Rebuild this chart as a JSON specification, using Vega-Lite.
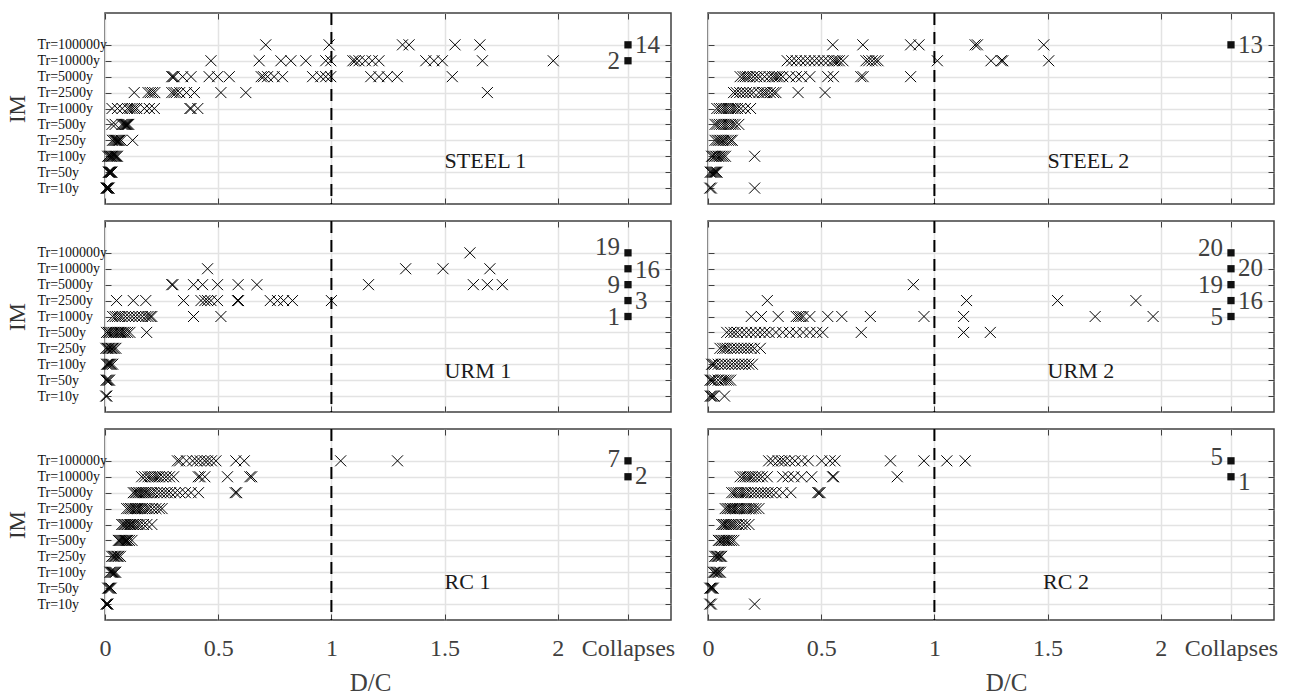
{
"$schema":"https://vega.github.io/schema/vega-lite/v6.json",
"background":"white",
"padding":{"left":5,"top":11,"right":5,"bottom":0},
"config":{"font":"Liberation Serif","view":{"stroke":"#404040","strokeWidth":1.5},
"axis":{"domain":false,"grid":true,"gridColor":"#e3e3e3","gridWidth":1.5,"tickColor":"#404040","tickSize":-6,"tickWidth":1,"labelFont":"Liberation Serif","titleFont":"Liberation Serif","titleFontWeight":"normal","labelOverlap":false,"labelFlush":false},
"text":{"font":"Liberation Serif"}},
"datasets":{
"lab":[{"p":"S1","x":1.5,"y":2.7,"t":"STEEL 1"},{"p":"S2","x":1.5,"y":2.7,"t":"STEEL 2"},{"p":"U1","x":1.5,"y":2.6,"t":"URM 1"},{"p":"U2","x":1.5,"y":2.6,"t":"URM 2"},{"p":"R1","x":1.5,"y":2.37,"t":"RC 1"},{"p":"R2","x":1.48,"y":2.37,"t":"RC 2"}],
"col":[
{"p":"S1","x":2.31,"l":10,"ly":10,"n":"14","s":"R"},{"p":"S1","x":2.31,"l":9,"ly":9,"n":"2","s":"L"},
{"p":"S2","x":2.31,"l":10,"ly":10,"n":"13","s":"R"},
{"p":"U1","x":2.31,"l":10,"ly":10.37,"n":"19","s":"L"},{"p":"U1","x":2.31,"l":9,"ly":8.9,"n":"16","s":"R"},{"p":"U1","x":2.31,"l":8,"ly":8,"n":"9","s":"L"},{"p":"U1","x":2.31,"l":7,"ly":6.95,"n":"3","s":"R"},{"p":"U1","x":2.31,"l":6,"ly":6,"n":"1","s":"L"},
{"p":"U2","x":2.31,"l":10,"ly":10.33,"n":"20","s":"L"},{"p":"U2","x":2.31,"l":9,"ly":9.05,"n":"20","s":"R"},{"p":"U2","x":2.31,"l":8,"ly":8,"n":"19","s":"L"},{"p":"U2","x":2.31,"l":7,"ly":7,"n":"16","s":"R"},{"p":"U2","x":2.31,"l":6,"ly":5.95,"n":"5","s":"L"},
{"p":"R1","x":2.31,"l":10,"ly":10.1,"n":"7","s":"L"},{"p":"R1","x":2.31,"l":9,"ly":9.05,"n":"2","s":"R"},
{"p":"R2","x":2.31,"l":10,"ly":10.27,"n":"5","s":"L"},{"p":"R2","x":2.31,"l":9,"ly":8.7,"n":"1","s":"R"}],
"pts":[
{"p":"S1","l":1,"x":0.005},{"p":"S1","l":1,"x":0.008},{"p":"S1","l":1,"x":0.01},{"p":"S1","l":1,"x":0.012},{"p":"S1","l":1,"x":0.015},{"p":"S1","l":1,"x":0.018},
{"p":"S1","l":2,"x":0.015},{"p":"S1","l":2,"x":0.018},{"p":"S1","l":2,"x":0.02},{"p":"S1","l":2,"x":0.022},{"p":"S1","l":2,"x":0.025},{"p":"S1","l":2,"x":0.028},{"p":"S1","l":2,"x":0.03},
{"p":"S1","l":3,"x":0.012},{"p":"S1","l":3,"x":0.018},{"p":"S1","l":3,"x":0.022},{"p":"S1","l":3,"x":0.027},{"p":"S1","l":3,"x":0.03},{"p":"S1","l":3,"x":0.035},{"p":"S1","l":3,"x":0.04},{"p":"S1","l":3,"x":0.045},{"p":"S1","l":3,"x":0.05},{"p":"S1","l":3,"x":0.055},
{"p":"S1","l":4,"x":0.033},{"p":"S1","l":4,"x":0.04},{"p":"S1","l":4,"x":0.045},{"p":"S1","l":4,"x":0.05},{"p":"S1","l":4,"x":0.055},{"p":"S1","l":4,"x":0.06},{"p":"S1","l":4,"x":0.065},{"p":"S1","l":4,"x":0.072},{"p":"S1","l":4,"x":0.122},
{"p":"S1","l":5,"x":0.031},{"p":"S1","l":5,"x":0.045},{"p":"S1","l":5,"x":0.075},{"p":"S1","l":5,"x":0.08},{"p":"S1","l":5,"x":0.085},{"p":"S1","l":5,"x":0.09},{"p":"S1","l":5,"x":0.095},{"p":"S1","l":5,"x":0.1},{"p":"S1","l":5,"x":0.105},
{"p":"S1","l":6,"x":0.031},{"p":"S1","l":6,"x":0.055},{"p":"S1","l":6,"x":0.076},{"p":"S1","l":6,"x":0.1},{"p":"S1","l":6,"x":0.11},{"p":"S1","l":6,"x":0.12},{"p":"S1","l":6,"x":0.13},{"p":"S1","l":6,"x":0.14},{"p":"S1","l":6,"x":0.174},{"p":"S1","l":6,"x":0.196},{"p":"S1","l":6,"x":0.218},{"p":"S1","l":6,"x":0.375},{"p":"S1","l":6,"x":0.38},{"p":"S1","l":6,"x":0.41},
{"p":"S1","l":7,"x":0.129},{"p":"S1","l":7,"x":0.19},{"p":"S1","l":7,"x":0.2},{"p":"S1","l":7,"x":0.21},{"p":"S1","l":7,"x":0.22},{"p":"S1","l":7,"x":0.295},{"p":"S1","l":7,"x":0.305},{"p":"S1","l":7,"x":0.315},{"p":"S1","l":7,"x":0.33},{"p":"S1","l":7,"x":0.36},{"p":"S1","l":7,"x":0.395},{"p":"S1","l":7,"x":0.512},{"p":"S1","l":7,"x":0.622},{"p":"S1","l":7,"x":1.689},
{"p":"S1","l":8,"x":0.295},{"p":"S1","l":8,"x":0.3},{"p":"S1","l":8,"x":0.305},{"p":"S1","l":8,"x":0.343},{"p":"S1","l":8,"x":0.38},{"p":"S1","l":8,"x":0.46},{"p":"S1","l":8,"x":0.497},{"p":"S1","l":8,"x":0.549},{"p":"S1","l":8,"x":0.69},{"p":"S1","l":8,"x":0.7},{"p":"S1","l":8,"x":0.718},{"p":"S1","l":8,"x":0.747},{"p":"S1","l":8,"x":0.784},{"p":"S1","l":8,"x":0.917},{"p":"S1","l":8,"x":0.953},{"p":"S1","l":8,"x":0.975},{"p":"S1","l":8,"x":0.997},{"p":"S1","l":8,"x":1.174},{"p":"S1","l":8,"x":1.21},{"p":"S1","l":8,"x":1.247},{"p":"S1","l":8,"x":1.291},{"p":"S1","l":8,"x":1.534},
{"p":"S1","l":9,"x":0.468},{"p":"S1","l":9,"x":0.681},{"p":"S1","l":9,"x":0.777},{"p":"S1","l":9,"x":0.821},{"p":"S1","l":9,"x":0.887},{"p":"S1","l":9,"x":0.975},{"p":"S1","l":9,"x":0.997},{"p":"S1","l":9,"x":1.095},{"p":"S1","l":9,"x":1.105},{"p":"S1","l":9,"x":1.122},{"p":"S1","l":9,"x":1.15},{"p":"S1","l":9,"x":1.18},{"p":"S1","l":9,"x":1.21},{"p":"S1","l":9,"x":1.417},{"p":"S1","l":9,"x":1.453},{"p":"S1","l":9,"x":1.49},{"p":"S1","l":9,"x":1.667},{"p":"S1","l":9,"x":1.98},
{"p":"S1","l":10,"x":0.71},{"p":"S1","l":10,"x":0.99},{"p":"S1","l":10,"x":1.314},{"p":"S1","l":10,"x":1.343},{"p":"S1","l":10,"x":1.546},{"p":"S1","l":10,"x":1.656},
{"p":"S2","l":1,"x":0.008},{"p":"S2","l":1,"x":0.015},{"p":"S2","l":1,"x":0.206},
{"p":"S2","l":2,"x":0.01},{"p":"S2","l":2,"x":0.015},{"p":"S2","l":2,"x":0.02},{"p":"S2","l":2,"x":0.025},{"p":"S2","l":2,"x":0.03},{"p":"S2","l":2,"x":0.035},{"p":"S2","l":2,"x":0.04},
{"p":"S2","l":3,"x":0.016},{"p":"S2","l":3,"x":0.022},{"p":"S2","l":3,"x":0.03},{"p":"S2","l":3,"x":0.037},{"p":"S2","l":3,"x":0.045},{"p":"S2","l":3,"x":0.052},{"p":"S2","l":3,"x":0.06},{"p":"S2","l":3,"x":0.068},{"p":"S2","l":3,"x":0.077},{"p":"S2","l":3,"x":0.206},
{"p":"S2","l":4,"x":0.031},{"p":"S2","l":4,"x":0.04},{"p":"S2","l":4,"x":0.048},{"p":"S2","l":4,"x":0.055},{"p":"S2","l":4,"x":0.063},{"p":"S2","l":4,"x":0.07},{"p":"S2","l":4,"x":0.08},{"p":"S2","l":4,"x":0.09},{"p":"S2","l":4,"x":0.1},{"p":"S2","l":4,"x":0.107},
{"p":"S2","l":5,"x":0.031},{"p":"S2","l":5,"x":0.04},{"p":"S2","l":5,"x":0.05},{"p":"S2","l":5,"x":0.06},{"p":"S2","l":5,"x":0.07},{"p":"S2","l":5,"x":0.08},{"p":"S2","l":5,"x":0.09},{"p":"S2","l":5,"x":0.1},{"p":"S2","l":5,"x":0.11},{"p":"S2","l":5,"x":0.12},{"p":"S2","l":5,"x":0.136},
{"p":"S2","l":6,"x":0.039},{"p":"S2","l":6,"x":0.05},{"p":"S2","l":6,"x":0.06},{"p":"S2","l":6,"x":0.07},{"p":"S2","l":6,"x":0.08},{"p":"S2","l":6,"x":0.09},{"p":"S2","l":6,"x":0.1},{"p":"S2","l":6,"x":0.11},{"p":"S2","l":6,"x":0.12},{"p":"S2","l":6,"x":0.13},{"p":"S2","l":6,"x":0.145},{"p":"S2","l":6,"x":0.165},{"p":"S2","l":6,"x":0.188},
{"p":"S2","l":7,"x":0.113},{"p":"S2","l":7,"x":0.125},{"p":"S2","l":7,"x":0.14},{"p":"S2","l":7,"x":0.155},{"p":"S2","l":7,"x":0.17},{"p":"S2","l":7,"x":0.185},{"p":"S2","l":7,"x":0.2},{"p":"S2","l":7,"x":0.225},{"p":"S2","l":7,"x":0.24},{"p":"S2","l":7,"x":0.25},{"p":"S2","l":7,"x":0.26},{"p":"S2","l":7,"x":0.275},{"p":"S2","l":7,"x":0.29},{"p":"S2","l":7,"x":0.3},{"p":"S2","l":7,"x":0.398},{"p":"S2","l":7,"x":0.517},
{"p":"S2","l":8,"x":0.142},{"p":"S2","l":8,"x":0.155},{"p":"S2","l":8,"x":0.165},{"p":"S2","l":8,"x":0.175},{"p":"S2","l":8,"x":0.185},{"p":"S2","l":8,"x":0.2},{"p":"S2","l":8,"x":0.215},{"p":"S2","l":8,"x":0.23},{"p":"S2","l":8,"x":0.25},{"p":"S2","l":8,"x":0.27},{"p":"S2","l":8,"x":0.285},{"p":"S2","l":8,"x":0.295},{"p":"S2","l":8,"x":0.305},{"p":"S2","l":8,"x":0.315},{"p":"S2","l":8,"x":0.33},{"p":"S2","l":8,"x":0.36},{"p":"S2","l":8,"x":0.39},{"p":"S2","l":8,"x":0.413},{"p":"S2","l":8,"x":0.45},{"p":"S2","l":8,"x":0.529},{"p":"S2","l":8,"x":0.554},{"p":"S2","l":8,"x":0.675},{"p":"S2","l":8,"x":0.685},{"p":"S2","l":8,"x":0.895},
{"p":"S2","l":9,"x":0.35},{"p":"S2","l":9,"x":0.37},{"p":"S2","l":9,"x":0.39},{"p":"S2","l":9,"x":0.41},{"p":"S2","l":9,"x":0.43},{"p":"S2","l":9,"x":0.45},{"p":"S2","l":9,"x":0.47},{"p":"S2","l":9,"x":0.49},{"p":"S2","l":9,"x":0.51},{"p":"S2","l":9,"x":0.53},{"p":"S2","l":9,"x":0.55},{"p":"S2","l":9,"x":0.56},{"p":"S2","l":9,"x":0.57},{"p":"S2","l":9,"x":0.58},{"p":"S2","l":9,"x":0.596},{"p":"S2","l":9,"x":0.698},{"p":"S2","l":9,"x":0.71},{"p":"S2","l":9,"x":0.725},{"p":"S2","l":9,"x":0.74},{"p":"S2","l":9,"x":0.751},{"p":"S2","l":9,"x":1.013},{"p":"S2","l":9,"x":1.25},{"p":"S2","l":9,"x":1.295},{"p":"S2","l":9,"x":1.302},{"p":"S2","l":9,"x":1.505},
{"p":"S2","l":10,"x":0.551},{"p":"S2","l":10,"x":0.684},{"p":"S2","l":10,"x":0.895},{"p":"S2","l":10,"x":0.932},{"p":"S2","l":10,"x":1.18},{"p":"S2","l":10,"x":1.19},{"p":"S2","l":10,"x":1.483},
{"p":"U1","l":1,"x":0.003},{"p":"U1","l":1,"x":0.008},
{"p":"U1","l":2,"x":0.005},{"p":"U1","l":2,"x":0.01},{"p":"U1","l":2,"x":0.015},{"p":"U1","l":2,"x":0.02},
{"p":"U1","l":3,"x":0.007},{"p":"U1","l":3,"x":0.012},{"p":"U1","l":3,"x":0.017},{"p":"U1","l":3,"x":0.022},{"p":"U1","l":3,"x":0.027},{"p":"U1","l":3,"x":0.034},
{"p":"U1","l":4,"x":0.004},{"p":"U1","l":4,"x":0.01},{"p":"U1","l":4,"x":0.016},{"p":"U1","l":4,"x":0.022},{"p":"U1","l":4,"x":0.028},{"p":"U1","l":4,"x":0.034},{"p":"U1","l":4,"x":0.04},{"p":"U1","l":4,"x":0.048},
{"p":"U1","l":5,"x":0.007},{"p":"U1","l":5,"x":0.015},{"p":"U1","l":5,"x":0.022},{"p":"U1","l":5,"x":0.03},{"p":"U1","l":5,"x":0.038},{"p":"U1","l":5,"x":0.045},{"p":"U1","l":5,"x":0.053},{"p":"U1","l":5,"x":0.06},{"p":"U1","l":5,"x":0.068},{"p":"U1","l":5,"x":0.075},{"p":"U1","l":5,"x":0.083},{"p":"U1","l":5,"x":0.09},{"p":"U1","l":5,"x":0.1},{"p":"U1","l":5,"x":0.11},{"p":"U1","l":5,"x":0.184},
{"p":"U1","l":6,"x":0.034},{"p":"U1","l":6,"x":0.045},{"p":"U1","l":6,"x":0.055},{"p":"U1","l":6,"x":0.065},{"p":"U1","l":6,"x":0.075},{"p":"U1","l":6,"x":0.09},{"p":"U1","l":6,"x":0.105},{"p":"U1","l":6,"x":0.12},{"p":"U1","l":6,"x":0.135},{"p":"U1","l":6,"x":0.15},{"p":"U1","l":6,"x":0.165},{"p":"U1","l":6,"x":0.18},{"p":"U1","l":6,"x":0.19},{"p":"U1","l":6,"x":0.2},{"p":"U1","l":6,"x":0.207},{"p":"U1","l":6,"x":0.391},{"p":"U1","l":6,"x":0.512},
{"p":"U1","l":7,"x":0.051},{"p":"U1","l":7,"x":0.125},{"p":"U1","l":7,"x":0.18},{"p":"U1","l":7,"x":0.347},{"p":"U1","l":7,"x":0.424},{"p":"U1","l":7,"x":0.441},{"p":"U1","l":7,"x":0.453},{"p":"U1","l":7,"x":0.468},{"p":"U1","l":7,"x":0.497},{"p":"U1","l":7,"x":0.585},{"p":"U1","l":7,"x":0.59},{"p":"U1","l":7,"x":0.73},{"p":"U1","l":7,"x":0.762},{"p":"U1","l":7,"x":0.789},{"p":"U1","l":7,"x":0.828},{"p":"U1","l":7,"x":1.0},
{"p":"U1","l":8,"x":0.295},{"p":"U1","l":8,"x":0.3},{"p":"U1","l":8,"x":0.391},{"p":"U1","l":8,"x":0.431},{"p":"U1","l":8,"x":0.497},{"p":"U1","l":8,"x":0.588},{"p":"U1","l":8,"x":0.671},{"p":"U1","l":8,"x":1.164},{"p":"U1","l":8,"x":1.627},{"p":"U1","l":8,"x":1.689},{"p":"U1","l":8,"x":1.755},
{"p":"U1","l":9,"x":0.453},{"p":"U1","l":9,"x":1.328},{"p":"U1","l":9,"x":1.493},{"p":"U1","l":9,"x":1.7},
{"p":"U1","l":10,"x":1.612},
{"p":"U2","l":1,"x":0.01},{"p":"U2","l":1,"x":0.015},{"p":"U2","l":1,"x":0.02},{"p":"U2","l":1,"x":0.027},{"p":"U2","l":1,"x":0.073},
{"p":"U2","l":2,"x":0.009},{"p":"U2","l":2,"x":0.015},{"p":"U2","l":2,"x":0.02},{"p":"U2","l":2,"x":0.03},{"p":"U2","l":2,"x":0.045},{"p":"U2","l":2,"x":0.06},{"p":"U2","l":2,"x":0.07},{"p":"U2","l":2,"x":0.08},{"p":"U2","l":2,"x":0.09},{"p":"U2","l":2,"x":0.1},
{"p":"U2","l":3,"x":0.016},{"p":"U2","l":3,"x":0.022},{"p":"U2","l":3,"x":0.03},{"p":"U2","l":3,"x":0.045},{"p":"U2","l":3,"x":0.06},{"p":"U2","l":3,"x":0.075},{"p":"U2","l":3,"x":0.09},{"p":"U2","l":3,"x":0.105},{"p":"U2","l":3,"x":0.12},{"p":"U2","l":3,"x":0.135},{"p":"U2","l":3,"x":0.15},{"p":"U2","l":3,"x":0.165},{"p":"U2","l":3,"x":0.18},{"p":"U2","l":3,"x":0.196},
{"p":"U2","l":4,"x":0.053},{"p":"U2","l":4,"x":0.065},{"p":"U2","l":4,"x":0.075},{"p":"U2","l":4,"x":0.085},{"p":"U2","l":4,"x":0.1},{"p":"U2","l":4,"x":0.115},{"p":"U2","l":4,"x":0.13},{"p":"U2","l":4,"x":0.145},{"p":"U2","l":4,"x":0.16},{"p":"U2","l":4,"x":0.175},{"p":"U2","l":4,"x":0.19},{"p":"U2","l":4,"x":0.205},{"p":"U2","l":4,"x":0.231},
{"p":"U2","l":5,"x":0.083},{"p":"U2","l":5,"x":0.1},{"p":"U2","l":5,"x":0.115},{"p":"U2","l":5,"x":0.13},{"p":"U2","l":5,"x":0.15},{"p":"U2","l":5,"x":0.17},{"p":"U2","l":5,"x":0.19},{"p":"U2","l":5,"x":0.21},{"p":"U2","l":5,"x":0.23},{"p":"U2","l":5,"x":0.25},{"p":"U2","l":5,"x":0.27},{"p":"U2","l":5,"x":0.3},{"p":"U2","l":5,"x":0.33},{"p":"U2","l":5,"x":0.36},{"p":"U2","l":5,"x":0.39},{"p":"U2","l":5,"x":0.42},{"p":"U2","l":5,"x":0.45},{"p":"U2","l":5,"x":0.48},{"p":"U2","l":5,"x":0.507},{"p":"U2","l":5,"x":0.677},{"p":"U2","l":5,"x":1.129},{"p":"U2","l":5,"x":1.247},
{"p":"U2","l":6,"x":0.191},{"p":"U2","l":6,"x":0.236},{"p":"U2","l":6,"x":0.31},{"p":"U2","l":6,"x":0.39},{"p":"U2","l":6,"x":0.4},{"p":"U2","l":6,"x":0.41},{"p":"U2","l":6,"x":0.42},{"p":"U2","l":6,"x":0.45},{"p":"U2","l":6,"x":0.529},{"p":"U2","l":6,"x":0.591},{"p":"U2","l":6,"x":0.717},{"p":"U2","l":6,"x":0.954},{"p":"U2","l":6,"x":1.129},{"p":"U2","l":6,"x":1.71},{"p":"U2","l":6,"x":1.966},
{"p":"U2","l":7,"x":0.262},{"p":"U2","l":7,"x":1.142},{"p":"U2","l":7,"x":1.544},{"p":"U2","l":7,"x":1.89},
{"p":"U2","l":8,"x":0.907},
{"p":"R1","l":1,"x":0.005},{"p":"R1","l":1,"x":0.009},{"p":"R1","l":1,"x":0.013},
{"p":"R1","l":2,"x":0.012},{"p":"R1","l":2,"x":0.017},{"p":"R1","l":2,"x":0.022},{"p":"R1","l":2,"x":0.027},
{"p":"R1","l":3,"x":0.022},{"p":"R1","l":3,"x":0.027},{"p":"R1","l":3,"x":0.032},{"p":"R1","l":3,"x":0.037},{"p":"R1","l":3,"x":0.042},{"p":"R1","l":3,"x":0.047},
{"p":"R1","l":4,"x":0.03},{"p":"R1","l":4,"x":0.036},{"p":"R1","l":4,"x":0.042},{"p":"R1","l":4,"x":0.048},{"p":"R1","l":4,"x":0.054},{"p":"R1","l":4,"x":0.06},{"p":"R1","l":4,"x":0.068},
{"p":"R1","l":5,"x":0.059},{"p":"R1","l":5,"x":0.065},{"p":"R1","l":5,"x":0.07},{"p":"R1","l":5,"x":0.075},{"p":"R1","l":5,"x":0.08},{"p":"R1","l":5,"x":0.085},{"p":"R1","l":5,"x":0.09},{"p":"R1","l":5,"x":0.095},{"p":"R1","l":5,"x":0.1},{"p":"R1","l":5,"x":0.108},{"p":"R1","l":5,"x":0.119},
{"p":"R1","l":6,"x":0.074},{"p":"R1","l":6,"x":0.08},{"p":"R1","l":6,"x":0.087},{"p":"R1","l":6,"x":0.093},{"p":"R1","l":6,"x":0.1},{"p":"R1","l":6,"x":0.107},{"p":"R1","l":6,"x":0.113},{"p":"R1","l":6,"x":0.12},{"p":"R1","l":6,"x":0.127},{"p":"R1","l":6,"x":0.135},{"p":"R1","l":6,"x":0.145},{"p":"R1","l":6,"x":0.155},{"p":"R1","l":6,"x":0.17},{"p":"R1","l":6,"x":0.185},{"p":"R1","l":6,"x":0.207},
{"p":"R1","l":7,"x":0.096},{"p":"R1","l":7,"x":0.105},{"p":"R1","l":7,"x":0.113},{"p":"R1","l":7,"x":0.12},{"p":"R1","l":7,"x":0.128},{"p":"R1","l":7,"x":0.135},{"p":"R1","l":7,"x":0.143},{"p":"R1","l":7,"x":0.15},{"p":"R1","l":7,"x":0.158},{"p":"R1","l":7,"x":0.165},{"p":"R1","l":7,"x":0.175},{"p":"R1","l":7,"x":0.185},{"p":"R1","l":7,"x":0.195},{"p":"R1","l":7,"x":0.21},{"p":"R1","l":7,"x":0.225},{"p":"R1","l":7,"x":0.24},{"p":"R1","l":7,"x":0.252},
{"p":"R1","l":8,"x":0.125},{"p":"R1","l":8,"x":0.133},{"p":"R1","l":8,"x":0.14},{"p":"R1","l":8,"x":0.148},{"p":"R1","l":8,"x":0.155},{"p":"R1","l":8,"x":0.163},{"p":"R1","l":8,"x":0.17},{"p":"R1","l":8,"x":0.178},{"p":"R1","l":8,"x":0.185},{"p":"R1","l":8,"x":0.195},{"p":"R1","l":8,"x":0.205},{"p":"R1","l":8,"x":0.215},{"p":"R1","l":8,"x":0.23},{"p":"R1","l":8,"x":0.245},{"p":"R1","l":8,"x":0.26},{"p":"R1","l":8,"x":0.275},{"p":"R1","l":8,"x":0.29},{"p":"R1","l":8,"x":0.31},{"p":"R1","l":8,"x":0.33},{"p":"R1","l":8,"x":0.355},{"p":"R1","l":8,"x":0.38},{"p":"R1","l":8,"x":0.413},{"p":"R1","l":8,"x":0.575},{"p":"R1","l":8,"x":0.582},
{"p":"R1","l":9,"x":0.162},{"p":"R1","l":9,"x":0.175},{"p":"R1","l":9,"x":0.19},{"p":"R1","l":9,"x":0.2},{"p":"R1","l":9,"x":0.21},{"p":"R1","l":9,"x":0.22},{"p":"R1","l":9,"x":0.23},{"p":"R1","l":9,"x":0.24},{"p":"R1","l":9,"x":0.255},{"p":"R1","l":9,"x":0.27},{"p":"R1","l":9,"x":0.285},{"p":"R1","l":9,"x":0.303},{"p":"R1","l":9,"x":0.412},{"p":"R1","l":9,"x":0.42},{"p":"R1","l":9,"x":0.441},{"p":"R1","l":9,"x":0.541},{"p":"R1","l":9,"x":0.64},{"p":"R1","l":9,"x":0.648},
{"p":"R1","l":10,"x":0.32},{"p":"R1","l":10,"x":0.33},{"p":"R1","l":10,"x":0.36},{"p":"R1","l":10,"x":0.387},{"p":"R1","l":10,"x":0.405},{"p":"R1","l":10,"x":0.421},{"p":"R1","l":10,"x":0.44},{"p":"R1","l":10,"x":0.453},{"p":"R1","l":10,"x":0.47},{"p":"R1","l":10,"x":0.49},{"p":"R1","l":10,"x":0.578},{"p":"R1","l":10,"x":0.615},{"p":"R1","l":10,"x":1.041},{"p":"R1","l":10,"x":1.292},
{"p":"R2","l":1,"x":0.008},{"p":"R2","l":1,"x":0.015},{"p":"R2","l":1,"x":0.206},
{"p":"R2","l":2,"x":0.008},{"p":"R2","l":2,"x":0.013},{"p":"R2","l":2,"x":0.018},{"p":"R2","l":2,"x":0.023},
{"p":"R2","l":3,"x":0.024},{"p":"R2","l":3,"x":0.03},{"p":"R2","l":3,"x":0.036},{"p":"R2","l":3,"x":0.042},{"p":"R2","l":3,"x":0.048},{"p":"R2","l":3,"x":0.055},
{"p":"R2","l":4,"x":0.03},{"p":"R2","l":4,"x":0.036},{"p":"R2","l":4,"x":0.042},{"p":"R2","l":4,"x":0.048},{"p":"R2","l":4,"x":0.054},{"p":"R2","l":4,"x":0.06},
{"p":"R2","l":5,"x":0.046},{"p":"R2","l":5,"x":0.053},{"p":"R2","l":5,"x":0.06},{"p":"R2","l":5,"x":0.067},{"p":"R2","l":5,"x":0.074},{"p":"R2","l":5,"x":0.081},{"p":"R2","l":5,"x":0.088},{"p":"R2","l":5,"x":0.095},{"p":"R2","l":5,"x":0.104},{"p":"R2","l":5,"x":0.114},
{"p":"R2","l":6,"x":0.061},{"p":"R2","l":6,"x":0.068},{"p":"R2","l":6,"x":0.075},{"p":"R2","l":6,"x":0.082},{"p":"R2","l":6,"x":0.09},{"p":"R2","l":6,"x":0.098},{"p":"R2","l":6,"x":0.106},{"p":"R2","l":6,"x":0.115},{"p":"R2","l":6,"x":0.125},{"p":"R2","l":6,"x":0.135},{"p":"R2","l":6,"x":0.15},{"p":"R2","l":6,"x":0.165},{"p":"R2","l":6,"x":0.181},
{"p":"R2","l":7,"x":0.076},{"p":"R2","l":7,"x":0.085},{"p":"R2","l":7,"x":0.093},{"p":"R2","l":7,"x":0.1},{"p":"R2","l":7,"x":0.108},{"p":"R2","l":7,"x":0.115},{"p":"R2","l":7,"x":0.123},{"p":"R2","l":7,"x":0.13},{"p":"R2","l":7,"x":0.14},{"p":"R2","l":7,"x":0.15},{"p":"R2","l":7,"x":0.16},{"p":"R2","l":7,"x":0.17},{"p":"R2","l":7,"x":0.18},{"p":"R2","l":7,"x":0.19},{"p":"R2","l":7,"x":0.2},{"p":"R2","l":7,"x":0.212},{"p":"R2","l":7,"x":0.225},
{"p":"R2","l":8,"x":0.105},{"p":"R2","l":8,"x":0.115},{"p":"R2","l":8,"x":0.125},{"p":"R2","l":8,"x":0.135},{"p":"R2","l":8,"x":0.145},{"p":"R2","l":8,"x":0.155},{"p":"R2","l":8,"x":0.165},{"p":"R2","l":8,"x":0.175},{"p":"R2","l":8,"x":0.19},{"p":"R2","l":8,"x":0.205},{"p":"R2","l":8,"x":0.22},{"p":"R2","l":8,"x":0.235},{"p":"R2","l":8,"x":0.25},{"p":"R2","l":8,"x":0.265},{"p":"R2","l":8,"x":0.28},{"p":"R2","l":8,"x":0.3},{"p":"R2","l":8,"x":0.33},{"p":"R2","l":8,"x":0.366},{"p":"R2","l":8,"x":0.485},{"p":"R2","l":8,"x":0.49},{"p":"R2","l":8,"x":0.495},
{"p":"R2","l":9,"x":0.142},{"p":"R2","l":9,"x":0.155},{"p":"R2","l":9,"x":0.165},{"p":"R2","l":9,"x":0.175},{"p":"R2","l":9,"x":0.185},{"p":"R2","l":9,"x":0.195},{"p":"R2","l":9,"x":0.21},{"p":"R2","l":9,"x":0.225},{"p":"R2","l":9,"x":0.24},{"p":"R2","l":9,"x":0.262},{"p":"R2","l":9,"x":0.33},{"p":"R2","l":9,"x":0.354},{"p":"R2","l":9,"x":0.38},{"p":"R2","l":9,"x":0.413},{"p":"R2","l":9,"x":0.458},{"p":"R2","l":9,"x":0.55},{"p":"R2","l":9,"x":0.555},{"p":"R2","l":9,"x":0.836},
{"p":"R2","l":10,"x":0.268},{"p":"R2","l":10,"x":0.285},{"p":"R2","l":10,"x":0.31},{"p":"R2","l":10,"x":0.325},{"p":"R2","l":10,"x":0.339},{"p":"R2","l":10,"x":0.361},{"p":"R2","l":10,"x":0.384},{"p":"R2","l":10,"x":0.413},{"p":"R2","l":10,"x":0.443},{"p":"R2","l":10,"x":0.502},{"p":"R2","l":10,"x":0.539},{"p":"R2","l":10,"x":0.561},{"p":"R2","l":10,"x":0.806},{"p":"R2","l":10,"x":0.954},{"p":"R2","l":10,"x":1.055},{"p":"R2","l":10,"x":1.136}
]},
"bounds":"flush",
"columns":2,
"spacing":{"row":17,"column":37},
"concat":[
{"width":566,"height":191,"layer":[
{"data":{"name":"pts"},"transform":[{"filter":"datum.p=='S1'"}],"mark":{"type":"point","shape":"M-1,-1L1,1M-1,1L1,-1","filled":false,"size":121,"stroke":"#000","strokeWidth":1,"opacity":1},
"encoding":{"x":{"field":"x","type":"quantitative","scale":{"domain":[0,2.5]},"axis":{"values":[0,0.5,1,1.5,2,2.31],"labels":false,"title":null}},
"y":{"field":"l","type":"quantitative","scale":{"domain":[0,12]},"axis":{"values":[1,2,3,4,5,6,7,8,9,10],"labelExpr":"['','Tr=10y','Tr=50y','Tr=100y','Tr=250y','Tr=500y','Tr=1000y','Tr=2500y','Tr=5000y','Tr=10000y','Tr=100000y'][datum.value]","labelAlign":"left","labelPadding":74,"labelFontSize":14,"labelColor":"#111","title":"IM","titleFontSize":23,"titleColor":"#333","titleX":-88,"titleY":95.5,"titleAngle":270,"titleAlign":"center","titleBaseline":"middle"}}}},
{"data":{"values":[{"x":1}]},"mark":{"type":"rule","stroke":"#000","strokeWidth":2,"strokeDash":[12,7]},
"encoding":{"x":{"field":"x","type":"quantitative","scale":{"domain":[0,2.5]},"axis":{"orient":"top","values":[0,0.5,1,1.5,2,2.31],"labels":false,"grid":false,"title":null}}}},
{"data":{"name":"col"},"transform":[{"filter":"datum.p=='S1'"}],"mark":{"type":"square","filled":true,"color":"#111","size":53,"opacity":1},
"encoding":{"x":{"field":"x","type":"quantitative","scale":{"domain":[0,2.5]},"axis":null},"y":{"field":"l","type":"quantitative","scale":{"domain":[0,12]},"axis":{"orient":"right","values":[1,2,3,4,5,6,7,8,9,10],"labels":false,"grid":false,"title":null}}}},
{"data":{"name":"col"},"transform":[{"filter":"datum.p=='S1'&&datum.s=='L'"}],"mark":{"type":"text","align":"right","baseline":"middle","dx":-8,"fontSize":25,"color":"#404040"},
"encoding":{"x":{"field":"x","type":"quantitative","scale":{"domain":[0,2.5]},"axis":null},"y":{"field":"ly","type":"quantitative","scale":{"domain":[0,12]},"axis":null},"text":{"field":"n"}}},
{"data":{"name":"col"},"transform":[{"filter":"datum.p=='S1'&&datum.s=='R'"}],"mark":{"type":"text","align":"left","baseline":"middle","dx":7,"fontSize":25,"color":"#404040"},
"encoding":{"x":{"field":"x","type":"quantitative","scale":{"domain":[0,2.5]},"axis":null},"y":{"field":"ly","type":"quantitative","scale":{"domain":[0,12]},"axis":null},"text":{"field":"n"}}},
{"data":{"name":"lab"},"transform":[{"filter":"datum.p=='S1'"}],"mark":{"type":"text","align":"left","baseline":"middle","fontSize":22,"color":"#1a1a1a"},
"encoding":{"x":{"field":"x","type":"quantitative","scale":{"domain":[0,2.5]},"axis":null},"y":{"field":"y","type":"quantitative","scale":{"domain":[0,12]},"axis":null},"text":{"field":"t"}}}
],"resolve":{"axis":{"x":"independent","y":"independent"}}},
{"width":566,"height":191,"layer":[
{"data":{"name":"pts"},"transform":[{"filter":"datum.p=='S2'"}],"mark":{"type":"point","shape":"M-1,-1L1,1M-1,1L1,-1","filled":false,"size":121,"stroke":"#000","strokeWidth":1,"opacity":1},
"encoding":{"x":{"field":"x","type":"quantitative","scale":{"domain":[0,2.5]},"axis":{"values":[0,0.5,1,1.5,2,2.31],"labels":false,"title":null}},
"y":{"field":"l","type":"quantitative","scale":{"domain":[0,12]},"axis":{"values":[1,2,3,4,5,6,7,8,9,10],"labels":false,"title":null}}}},
{"data":{"values":[{"x":1}]},"mark":{"type":"rule","stroke":"#000","strokeWidth":2,"strokeDash":[12,7]},
"encoding":{"x":{"field":"x","type":"quantitative","scale":{"domain":[0,2.5]},"axis":{"orient":"top","values":[0,0.5,1,1.5,2,2.31],"labels":false,"grid":false,"title":null}}}},
{"data":{"name":"col"},"transform":[{"filter":"datum.p=='S2'"}],"mark":{"type":"square","filled":true,"color":"#111","size":53,"opacity":1},
"encoding":{"x":{"field":"x","type":"quantitative","scale":{"domain":[0,2.5]},"axis":null},"y":{"field":"l","type":"quantitative","scale":{"domain":[0,12]},"axis":{"orient":"right","values":[1,2,3,4,5,6,7,8,9,10],"labels":false,"grid":false,"title":null}}}},
{"data":{"name":"col"},"transform":[{"filter":"datum.p=='S2'&&datum.s=='L'"}],"mark":{"type":"text","align":"right","baseline":"middle","dx":-8,"fontSize":25,"color":"#404040"},
"encoding":{"x":{"field":"x","type":"quantitative","scale":{"domain":[0,2.5]},"axis":null},"y":{"field":"ly","type":"quantitative","scale":{"domain":[0,12]},"axis":null},"text":{"field":"n"}}},
{"data":{"name":"col"},"transform":[{"filter":"datum.p=='S2'&&datum.s=='R'"}],"mark":{"type":"text","align":"left","baseline":"middle","dx":7,"fontSize":25,"color":"#404040"},
"encoding":{"x":{"field":"x","type":"quantitative","scale":{"domain":[0,2.5]},"axis":null},"y":{"field":"ly","type":"quantitative","scale":{"domain":[0,12]},"axis":null},"text":{"field":"n"}}},
{"data":{"name":"lab"},"transform":[{"filter":"datum.p=='S2'"}],"mark":{"type":"text","align":"left","baseline":"middle","fontSize":22,"color":"#1a1a1a"},
"encoding":{"x":{"field":"x","type":"quantitative","scale":{"domain":[0,2.5]},"axis":null},"y":{"field":"y","type":"quantitative","scale":{"domain":[0,12]},"axis":null},"text":{"field":"t"}}}
],"resolve":{"axis":{"x":"independent","y":"independent"}}},
{"width":566,"height":191,"layer":[
{"data":{"name":"pts"},"transform":[{"filter":"datum.p=='U1'"}],"mark":{"type":"point","shape":"M-1,-1L1,1M-1,1L1,-1","filled":false,"size":121,"stroke":"#000","strokeWidth":1,"opacity":1},
"encoding":{"x":{"field":"x","type":"quantitative","scale":{"domain":[0,2.5]},"axis":{"values":[0,0.5,1,1.5,2,2.31],"labels":false,"title":null}},
"y":{"field":"l","type":"quantitative","scale":{"domain":[0,12]},"axis":{"values":[1,2,3,4,5,6,7,8,9,10],"labelExpr":"['','Tr=10y','Tr=50y','Tr=100y','Tr=250y','Tr=500y','Tr=1000y','Tr=2500y','Tr=5000y','Tr=10000y','Tr=100000y'][datum.value]","labelAlign":"left","labelPadding":74,"labelFontSize":14,"labelColor":"#111","title":"IM","titleFontSize":23,"titleColor":"#333","titleX":-88,"titleY":95.5,"titleAngle":270,"titleAlign":"center","titleBaseline":"middle"}}}},
{"data":{"values":[{"x":1}]},"mark":{"type":"rule","stroke":"#000","strokeWidth":2,"strokeDash":[12,7]},
"encoding":{"x":{"field":"x","type":"quantitative","scale":{"domain":[0,2.5]},"axis":{"orient":"top","values":[0,0.5,1,1.5,2,2.31],"labels":false,"grid":false,"title":null}}}},
{"data":{"name":"col"},"transform":[{"filter":"datum.p=='U1'"}],"mark":{"type":"square","filled":true,"color":"#111","size":53,"opacity":1},
"encoding":{"x":{"field":"x","type":"quantitative","scale":{"domain":[0,2.5]},"axis":null},"y":{"field":"l","type":"quantitative","scale":{"domain":[0,12]},"axis":{"orient":"right","values":[1,2,3,4,5,6,7,8,9,10],"labels":false,"grid":false,"title":null}}}},
{"data":{"name":"col"},"transform":[{"filter":"datum.p=='U1'&&datum.s=='L'"}],"mark":{"type":"text","align":"right","baseline":"middle","dx":-8,"fontSize":25,"color":"#404040"},
"encoding":{"x":{"field":"x","type":"quantitative","scale":{"domain":[0,2.5]},"axis":null},"y":{"field":"ly","type":"quantitative","scale":{"domain":[0,12]},"axis":null},"text":{"field":"n"}}},
{"data":{"name":"col"},"transform":[{"filter":"datum.p=='U1'&&datum.s=='R'"}],"mark":{"type":"text","align":"left","baseline":"middle","dx":7,"fontSize":25,"color":"#404040"},
"encoding":{"x":{"field":"x","type":"quantitative","scale":{"domain":[0,2.5]},"axis":null},"y":{"field":"ly","type":"quantitative","scale":{"domain":[0,12]},"axis":null},"text":{"field":"n"}}},
{"data":{"name":"lab"},"transform":[{"filter":"datum.p=='U1'"}],"mark":{"type":"text","align":"left","baseline":"middle","fontSize":22,"color":"#1a1a1a"},
"encoding":{"x":{"field":"x","type":"quantitative","scale":{"domain":[0,2.5]},"axis":null},"y":{"field":"y","type":"quantitative","scale":{"domain":[0,12]},"axis":null},"text":{"field":"t"}}}
],"resolve":{"axis":{"x":"independent","y":"independent"}}},
{"width":566,"height":191,"layer":[
{"data":{"name":"pts"},"transform":[{"filter":"datum.p=='U2'"}],"mark":{"type":"point","shape":"M-1,-1L1,1M-1,1L1,-1","filled":false,"size":121,"stroke":"#000","strokeWidth":1,"opacity":1},
"encoding":{"x":{"field":"x","type":"quantitative","scale":{"domain":[0,2.5]},"axis":{"values":[0,0.5,1,1.5,2,2.31],"labels":false,"title":null}},
"y":{"field":"l","type":"quantitative","scale":{"domain":[0,12]},"axis":{"values":[1,2,3,4,5,6,7,8,9,10],"labels":false,"title":null}}}},
{"data":{"values":[{"x":1}]},"mark":{"type":"rule","stroke":"#000","strokeWidth":2,"strokeDash":[12,7]},
"encoding":{"x":{"field":"x","type":"quantitative","scale":{"domain":[0,2.5]},"axis":{"orient":"top","values":[0,0.5,1,1.5,2,2.31],"labels":false,"grid":false,"title":null}}}},
{"data":{"name":"col"},"transform":[{"filter":"datum.p=='U2'"}],"mark":{"type":"square","filled":true,"color":"#111","size":53,"opacity":1},
"encoding":{"x":{"field":"x","type":"quantitative","scale":{"domain":[0,2.5]},"axis":null},"y":{"field":"l","type":"quantitative","scale":{"domain":[0,12]},"axis":{"orient":"right","values":[1,2,3,4,5,6,7,8,9,10],"labels":false,"grid":false,"title":null}}}},
{"data":{"name":"col"},"transform":[{"filter":"datum.p=='U2'&&datum.s=='L'"}],"mark":{"type":"text","align":"right","baseline":"middle","dx":-8,"fontSize":25,"color":"#404040"},
"encoding":{"x":{"field":"x","type":"quantitative","scale":{"domain":[0,2.5]},"axis":null},"y":{"field":"ly","type":"quantitative","scale":{"domain":[0,12]},"axis":null},"text":{"field":"n"}}},
{"data":{"name":"col"},"transform":[{"filter":"datum.p=='U2'&&datum.s=='R'"}],"mark":{"type":"text","align":"left","baseline":"middle","dx":7,"fontSize":25,"color":"#404040"},
"encoding":{"x":{"field":"x","type":"quantitative","scale":{"domain":[0,2.5]},"axis":null},"y":{"field":"ly","type":"quantitative","scale":{"domain":[0,12]},"axis":null},"text":{"field":"n"}}},
{"data":{"name":"lab"},"transform":[{"filter":"datum.p=='U2'"}],"mark":{"type":"text","align":"left","baseline":"middle","fontSize":22,"color":"#1a1a1a"},
"encoding":{"x":{"field":"x","type":"quantitative","scale":{"domain":[0,2.5]},"axis":null},"y":{"field":"y","type":"quantitative","scale":{"domain":[0,12]},"axis":null},"text":{"field":"t"}}}
],"resolve":{"axis":{"x":"independent","y":"independent"}}},
{"width":566,"height":191,"layer":[
{"data":{"name":"pts"},"transform":[{"filter":"datum.p=='R1'"}],"mark":{"type":"point","shape":"M-1,-1L1,1M-1,1L1,-1","filled":false,"size":121,"stroke":"#000","strokeWidth":1,"opacity":1},
"encoding":{"x":{"field":"x","type":"quantitative","scale":{"domain":[0,2.5]},"axis":{"values":[0,0.5,1,1.5,2,2.31],"labelExpr":"datum.value>2.2?'Collapses':format(datum.value,'~g')","labelFontSize":24,"labelColor":"#404040","labelPadding":22,"labelBaseline":"top","title":"D/C","titleFontSize":25,"titleColor":"#404040","titleX":265,"titleY":70,"titleAlign":"center","titleBaseline":"alphabetic"}},
"y":{"field":"l","type":"quantitative","scale":{"domain":[0,12]},"axis":{"values":[1,2,3,4,5,6,7,8,9,10],"labelExpr":"['','Tr=10y','Tr=50y','Tr=100y','Tr=250y','Tr=500y','Tr=1000y','Tr=2500y','Tr=5000y','Tr=10000y','Tr=100000y'][datum.value]","labelAlign":"left","labelPadding":74,"labelFontSize":14,"labelColor":"#111","title":"IM","titleFontSize":23,"titleColor":"#333","titleX":-88,"titleY":95.5,"titleAngle":270,"titleAlign":"center","titleBaseline":"middle"}}}},
{"data":{"values":[{"x":1}]},"mark":{"type":"rule","stroke":"#000","strokeWidth":2,"strokeDash":[12,7]},
"encoding":{"x":{"field":"x","type":"quantitative","scale":{"domain":[0,2.5]},"axis":{"orient":"top","values":[0,0.5,1,1.5,2,2.31],"labels":false,"grid":false,"title":null}}}},
{"data":{"name":"col"},"transform":[{"filter":"datum.p=='R1'"}],"mark":{"type":"square","filled":true,"color":"#111","size":53,"opacity":1},
"encoding":{"x":{"field":"x","type":"quantitative","scale":{"domain":[0,2.5]},"axis":null},"y":{"field":"l","type":"quantitative","scale":{"domain":[0,12]},"axis":{"orient":"right","values":[1,2,3,4,5,6,7,8,9,10],"labels":false,"grid":false,"title":null}}}},
{"data":{"name":"col"},"transform":[{"filter":"datum.p=='R1'&&datum.s=='L'"}],"mark":{"type":"text","align":"right","baseline":"middle","dx":-8,"fontSize":25,"color":"#404040"},
"encoding":{"x":{"field":"x","type":"quantitative","scale":{"domain":[0,2.5]},"axis":null},"y":{"field":"ly","type":"quantitative","scale":{"domain":[0,12]},"axis":null},"text":{"field":"n"}}},
{"data":{"name":"col"},"transform":[{"filter":"datum.p=='R1'&&datum.s=='R'"}],"mark":{"type":"text","align":"left","baseline":"middle","dx":7,"fontSize":25,"color":"#404040"},
"encoding":{"x":{"field":"x","type":"quantitative","scale":{"domain":[0,2.5]},"axis":null},"y":{"field":"ly","type":"quantitative","scale":{"domain":[0,12]},"axis":null},"text":{"field":"n"}}},
{"data":{"name":"lab"},"transform":[{"filter":"datum.p=='R1'"}],"mark":{"type":"text","align":"left","baseline":"middle","fontSize":22,"color":"#1a1a1a"},
"encoding":{"x":{"field":"x","type":"quantitative","scale":{"domain":[0,2.5]},"axis":null},"y":{"field":"y","type":"quantitative","scale":{"domain":[0,12]},"axis":null},"text":{"field":"t"}}}
],"resolve":{"axis":{"x":"independent","y":"independent"}}},
{"width":566,"height":191,"layer":[
{"data":{"name":"pts"},"transform":[{"filter":"datum.p=='R2'"}],"mark":{"type":"point","shape":"M-1,-1L1,1M-1,1L1,-1","filled":false,"size":121,"stroke":"#000","strokeWidth":1,"opacity":1},
"encoding":{"x":{"field":"x","type":"quantitative","scale":{"domain":[0,2.5]},"axis":{"values":[0,0.5,1,1.5,2,2.31],"labelExpr":"datum.value>2.2?'Collapses':format(datum.value,'~g')","labelFontSize":24,"labelColor":"#404040","labelPadding":22,"labelBaseline":"top","title":"D/C","titleFontSize":25,"titleColor":"#404040","titleX":298,"titleY":70,"titleAlign":"center","titleBaseline":"alphabetic"}},
"y":{"field":"l","type":"quantitative","scale":{"domain":[0,12]},"axis":{"values":[1,2,3,4,5,6,7,8,9,10],"labels":false,"title":null}}}},
{"data":{"values":[{"x":1}]},"mark":{"type":"rule","stroke":"#000","strokeWidth":2,"strokeDash":[12,7]},
"encoding":{"x":{"field":"x","type":"quantitative","scale":{"domain":[0,2.5]},"axis":{"orient":"top","values":[0,0.5,1,1.5,2,2.31],"labels":false,"grid":false,"title":null}}}},
{"data":{"name":"col"},"transform":[{"filter":"datum.p=='R2'"}],"mark":{"type":"square","filled":true,"color":"#111","size":53,"opacity":1},
"encoding":{"x":{"field":"x","type":"quantitative","scale":{"domain":[0,2.5]},"axis":null},"y":{"field":"l","type":"quantitative","scale":{"domain":[0,12]},"axis":{"orient":"right","values":[1,2,3,4,5,6,7,8,9,10],"labels":false,"grid":false,"title":null}}}},
{"data":{"name":"col"},"transform":[{"filter":"datum.p=='R2'&&datum.s=='L'"}],"mark":{"type":"text","align":"right","baseline":"middle","dx":-8,"fontSize":25,"color":"#404040"},
"encoding":{"x":{"field":"x","type":"quantitative","scale":{"domain":[0,2.5]},"axis":null},"y":{"field":"ly","type":"quantitative","scale":{"domain":[0,12]},"axis":null},"text":{"field":"n"}}},
{"data":{"name":"col"},"transform":[{"filter":"datum.p=='R2'&&datum.s=='R'"}],"mark":{"type":"text","align":"left","baseline":"middle","dx":7,"fontSize":25,"color":"#404040"},
"encoding":{"x":{"field":"x","type":"quantitative","scale":{"domain":[0,2.5]},"axis":null},"y":{"field":"ly","type":"quantitative","scale":{"domain":[0,12]},"axis":null},"text":{"field":"n"}}},
{"data":{"name":"lab"},"transform":[{"filter":"datum.p=='R2'"}],"mark":{"type":"text","align":"left","baseline":"middle","fontSize":22,"color":"#1a1a1a"},
"encoding":{"x":{"field":"x","type":"quantitative","scale":{"domain":[0,2.5]},"axis":null},"y":{"field":"y","type":"quantitative","scale":{"domain":[0,12]},"axis":null},"text":{"field":"t"}}}
],"resolve":{"axis":{"x":"independent","y":"independent"}}}
]
}
